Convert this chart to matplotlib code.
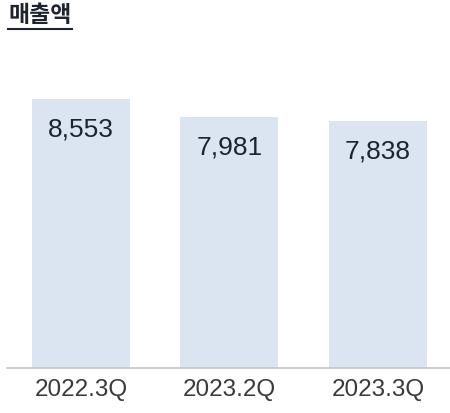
import matplotlib
matplotlib.use('Agg')
import matplotlib.pyplot as plt
from matplotlib.lines import Line2D

plt.rcParams['font.family'] = ['Noto Sans CJK KR', 'DejaVu Sans']

title = "매출액"
quarters = ["2022.3Q", "2023.2Q", "2023.3Q"]
sales = [8553, 7981, 7838]

bar_color = "#dbe5f1"
text_color = "#1e2330"

fig = plt.figure(figsize=(4.5, 4.13), dpi=100)
ax = fig.add_axes([0.0156, 0.109, 0.984, 0.7615])

x = range(len(quarters))
ax.bar(x, sales, width=0.66, color=bar_color, zorder=2)
for i, v in enumerate(sales):
    ax.annotate(f"{v:,}", (i, v), xytext=(0, -30.5), textcoords="offset pixels",
                ha="center", va="center", fontsize=19, color=text_color,
                family=["Liberation Sans", "DejaVu Sans"])

ax.set_xlim(-0.498, 2.485)
ax.set_ylim(0, 10000)
ax.set_yticks([])
ax.set_xticks(list(x))
ax.set_xticklabels(quarters, fontsize=17.5, color="#3a3a3a",
                   family=["Liberation Sans", "DejaVu Sans"])
ax.tick_params(axis="x", length=0, pad=8)
for s in ["top", "right", "left"]:
    ax.spines[s].set_visible(False)
ax.spines["bottom"].set_color("#c4c4c4")
ax.spines["bottom"].set_linewidth(1.2)

fig.text(8 / 450, 1 - 15 / 413, title, fontsize=16.5, fontweight="bold",
         color=text_color, ha="left", va="center")
fig.add_artist(Line2D([8 / 450, 72 / 450], [1 - 28.5 / 413, 1 - 28.5 / 413],
                      color=text_color, linewidth=1.5))

fig.savefig("out.png", dpi=100)
